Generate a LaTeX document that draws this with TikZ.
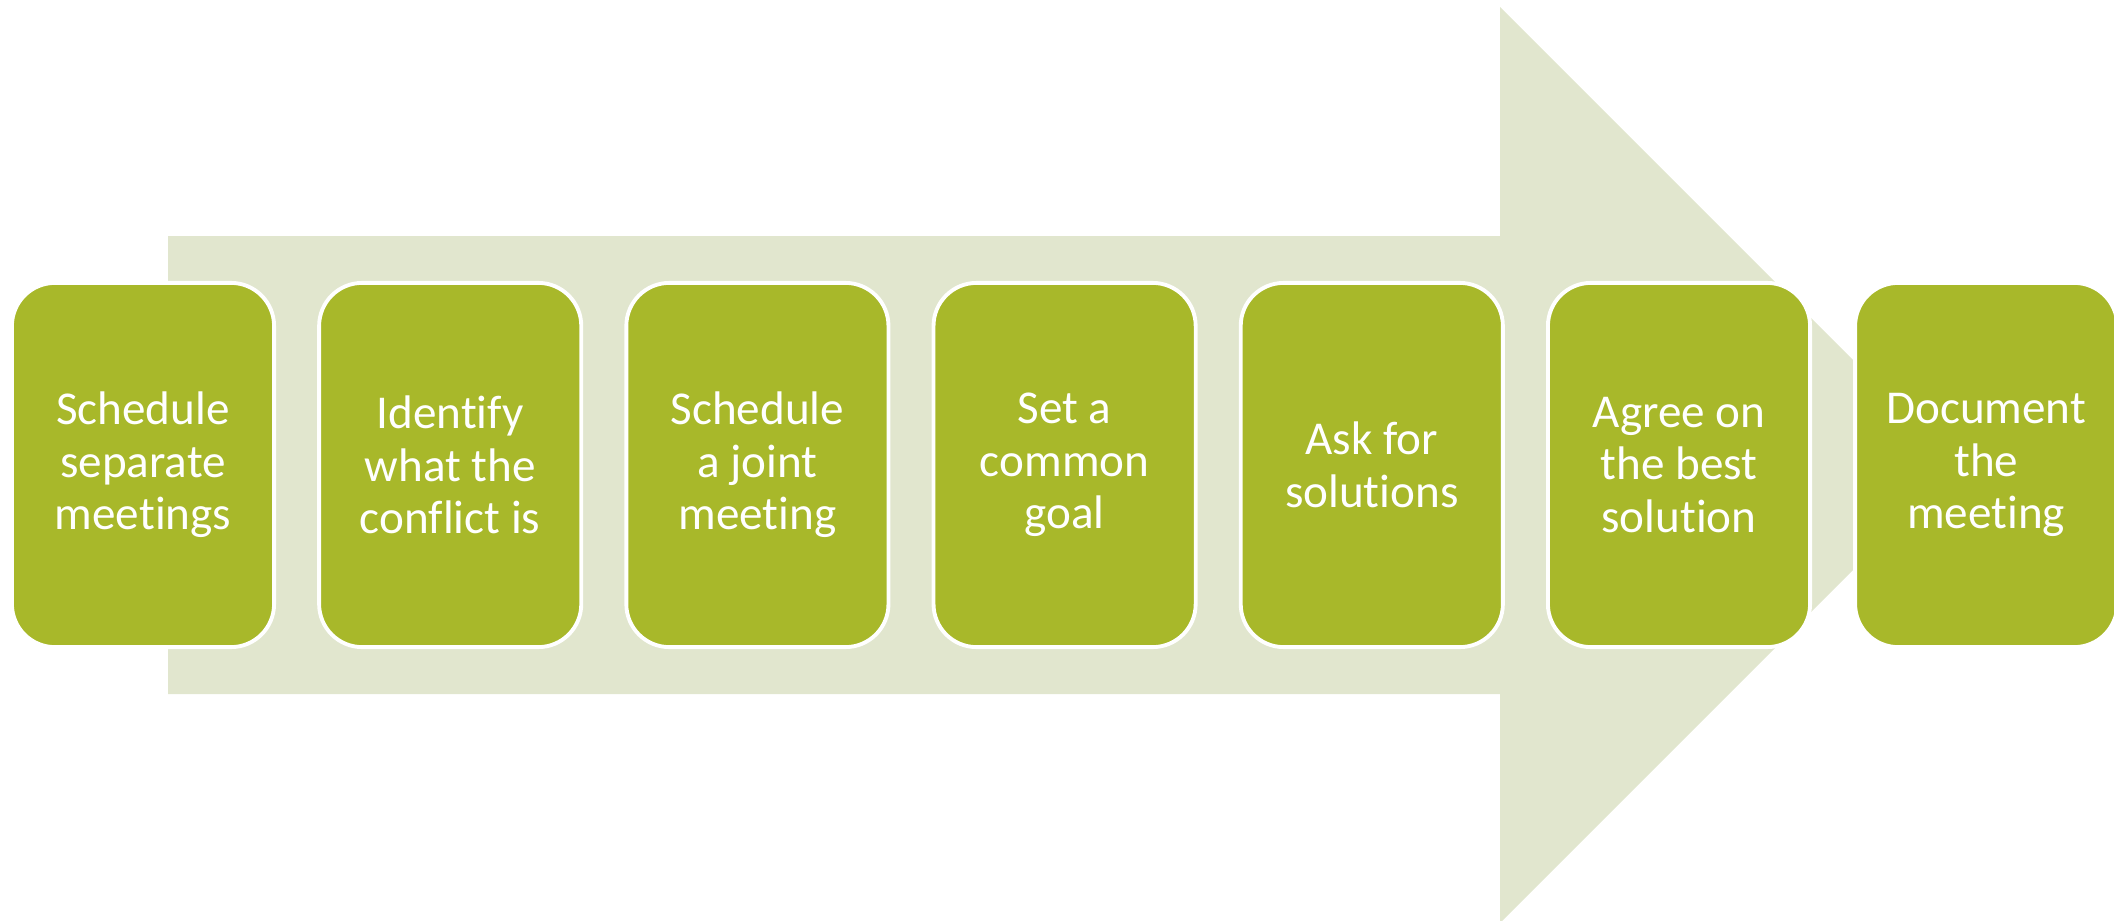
\documentclass[tikz,border=0pt]{standalone}
\usepackage{fontspec}
\setmainfont{Carlito}[Ligatures={NoCommon}]
\usepackage{tikz}
\usetikzlibrary{positioning, shapes, calc}

\definecolor{stepgreen}{RGB}{168,184,42}
\definecolor{arrowtint}{RGB}{225,230,206}

\tikzset{
	stepbox/.style={draw=white, line width=1.1pt, fill=stepgreen, rounded corners=0.43cm,
		minimum width=2.62cm, minimum height=3.64cm, inner sep=0pt,
		text=white, align=center, font=\fontsize{13.4}{14.9}\selectfont},
	bigarrow/.style={fill=arrowtint, draw=none}
}

\begin{document}
\begin{tikzpicture}[x=0.01cm, y=-0.01cm]

			\clip (0,0) rectangle (2114,921);
			\useasboundingbox (0,0) rectangle (2114,921);
			
			% broad arrow behind the steps
			\coordinate (tip) at (1958,465);
			\fill[bigarrow] (168,236) -- (1500,236) -- (1500,7) -- (tip)
				-- (1500,923) -- (1500,694) -- (168,694) -- cycle;
			
			\foreach \x/\txt in {0/{Schedule\\separate\\meetings}, 1/{Identify\\what the\\conflict is},
				2/{Schedule\\a joint\\meeting}, 3/{Set a\\common\\goal}, 4/{Ask for\\solutions},
				5/{Agree on\\the best\\solution}, 6/{Document\\the\\meeting}}
			{
				\node [stepbox] (step\x) at (143+307.2*\x, 465) {\txt};
			}
			\end{tikzpicture}
\end{document}
